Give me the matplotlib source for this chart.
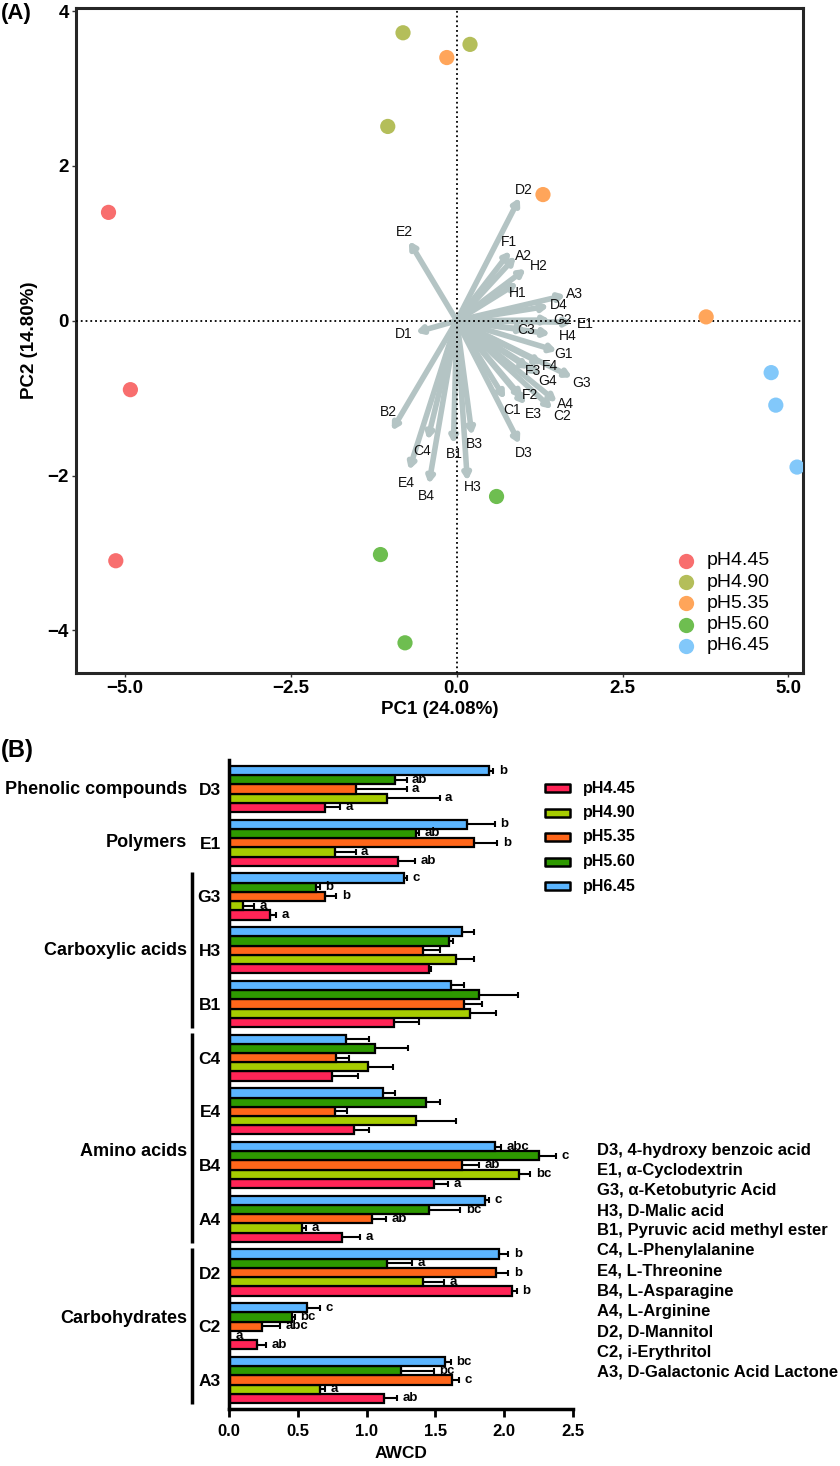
import matplotlib
matplotlib.use('Agg')
import matplotlib.pyplot as plt
import matplotlib.transforms as mtransforms
from matplotlib.lines import Line2D
from matplotlib.patches import Rectangle

plt.rcParams['font.family'] = ['Liberation Sans', 'DejaVu Sans']

# ---------------- panel A data (PCA scores + loadings) ----------------
ph_groups = ['pH4.45', 'pH4.90', 'pH5.35', 'pH5.60', 'pH6.45']
pc1_scores = [[-5.25, -4.92, -5.14],
              [-0.81, 0.20, -1.04],
              [-0.15, 1.30, 3.76],
              [0.60, -1.15, -0.78],
              [4.74, 4.81, 5.13]]
pc2_scores = [[1.40, -0.89, -3.10],
              [3.72, 3.57, 2.51],
              [3.40, 1.63, 0.05],
              [-2.27, -3.02, -4.16],
              [-0.67, -1.09, -1.89]]

var_names = ['D2', 'E2', 'F1', 'A2', 'H2', 'H1', 'A3', 'D4', 'G2', 'E1', 'C3',
             'H4', 'G1', 'F4', 'F3', 'G4', 'G3', 'F2', 'A4', 'C2', 'E3', 'C1',
             'D3', 'B3', 'B1', 'H3', 'C4', 'E4', 'B4', 'B2', 'D1']
var_pc1 = [0.95, -0.72, 0.81, 0.89, 1.04, 0.92, 1.64, 1.39, 1.41, 1.74, 1.05,
           1.41, 1.51, 1.29, 1.09, 1.26, 1.74, 0.99, 1.51, 1.44, 1.04, 0.73,
           0.95, 0.23, -0.05, 0.16, -0.44, -0.72, -0.42, -0.98, -0.62]
var_pc2 = [1.59, 1.03, 0.90, 0.83, 0.67, 0.49, 0.33, 0.19, 0.01, -0.02, -0.12,
           -0.17, -0.39, -0.56, -0.62, -0.69, -0.73, -1.00, -1.05, -1.14, -1.08, -1.01,
           -1.59, -1.48, -1.59, -2.07, -1.54, -1.93, -2.11, -1.42, -0.15]

# label nudges in pixels (right, down) -- layout only
label_nudge = {'D2': (4, -8), 'E2': (-5, -9), 'F1': (-2, -9), 'A2': (8, -1), 'H2': (13, -3),
               'H1': (0, 10), 'A3': (9, -1), 'D4': (10, -1), 'G2': (12, 0), 'E1': (13, 2),
               'C3': (0, 0), 'H4': (17, 2), 'G1': (7, 3), 'F4': (8, 2), 'F3': (4, 2),
               'G4': (7, 7), 'G3': (9, 6), 'F2': (8, -3), 'A4': (9, 2), 'C2': (10, 7),
               'E3': (8, 10), 'C1': (7, 11), 'D3': (4, 9), 'B3': (2, 9), 'B1': (1, 10),
               'H3': (5, 6), 'C4': (-5, 11), 'E4': (-3, 13), 'B4': (-3, 12), 'B2': (-3, -19),
               'D1': (-12, 2)}

point_colors = ['#F86E6E', '#B4BE5A', '#FFA55A', '#6EBE50', '#82C8FA']
arrow_color = '#B4C4C4'

# ---------------- panel B data (AWCD bars) ----------------
substrates = ['D3', 'E1', 'G3', 'H3', 'B1', 'C4', 'E4', 'B4', 'A4', 'D2', 'C2', 'A3']
awcd_445 = [0.70, 1.23, 0.30, 1.45, 1.20, 0.75, 0.91, 1.49, 0.82, 2.06, 0.20, 1.13]
awcd_490 = [1.15, 0.77, 0.10, 1.65, 1.75, 1.01, 1.36, 2.11, 0.53, 1.41, 0.01, 0.66]
awcd_535 = [0.92, 1.78, 0.70, 1.41, 1.71, 0.78, 0.77, 1.69, 1.04, 1.94, 0.24, 1.62]
awcd_560 = [1.21, 1.36, 0.63, 1.60, 1.82, 1.06, 1.43, 2.25, 1.45, 1.15, 0.46, 1.25]
awcd_645 = [1.89, 1.73, 1.27, 1.69, 1.61, 0.85, 1.12, 1.93, 1.86, 1.96, 0.57, 1.57]

err_445 = [0.11, 0.12, 0.04, 0.02, 0.18, 0.19, 0.11, 0.10, 0.13, 0.03, 0.07, 0.09]
err_490 = [0.38, 0.15, 0.08, 0.13, 0.19, 0.18, 0.29, 0.08, 0.03, 0.15, 0.00, 0.04]
err_535 = [0.37, 0.17, 0.08, 0.12, 0.13, 0.09, 0.09, 0.13, 0.10, 0.09, 0.13, 0.05]
err_560 = [0.08, 0.02, 0.03, 0.03, 0.28, 0.24, 0.10, 0.13, 0.23, 0.18, 0.02, 0.24]
err_645 = [0.03, 0.20, 0.02, 0.09, 0.10, 0.17, 0.09, 0.05, 0.03, 0.07, 0.09, 0.04]

sig_445 = ['a', 'ab', 'a', '', '', '', '', 'a', 'a', 'b', 'ab', 'ab']
sig_490 = ['a', 'a', 'a', '', '', '', '', 'bc', 'a', 'a', 'a', 'a']
sig_535 = ['a', 'b', 'b', '', '', '', '', 'ab', 'ab', 'b', 'abc', 'c']
sig_560 = ['ab', 'ab', 'b', '', '', '', '', 'c', 'bc', 'a', 'bc', 'bc']
sig_645 = ['b', 'b', 'c', '', '', '', '', 'abc', 'c', 'b', 'c', 'bc']

bar_colors = ['#FF2456', '#A6CC00', '#FF661A', '#2E9900', '#5BB5FF']

categories = ['Phenolic compounds', 'Polymers', 'Carboxylic acids', 'Amino acids', 'Carbohydrates']
category_rows = [(0, 0), (1, 1), (2, 4), (5, 8), (9, 11)]

substrate_names = ['D3, 4-hydroxy benzoic acid', 'E1, \u03b1-Cyclodextrin',
                   'G3, \u03b1-Ketobutyric Acid', 'H3, D-Malic acid',
                   'B1, Pyruvic acid methyl ester', 'C4, L-Phenylalanine',
                   'E4, L-Threonine', 'B4, L-Asparagine', 'A4, L-Arginine',
                   'D2, D-Mannitol', 'C2, i-Erythritol', 'A3, D-Galactonic Acid Lactone']

W, H = 840, 1466


def fx(x):
    return x / W


def fy(y):
    return 1 - y / H


fig = plt.figure(figsize=(W / 100, H / 100), dpi=100)

# ======================= (A) PCA biplot =======================
axA = fig.add_axes([fx(76), fy(673), (803 - 76) / W, (673 - 8) / H])
axA.set_xlim(-5.74, 5.22)
axA.set_ylim(-4.55, 4.04)

axA.axhline(0, color='black', ls=':', lw=1.3, zorder=3)
axA.axvline(0, color='black', ls=':', lw=1.3, zorder=3)

for name, x, y in zip(var_names, var_pc1, var_pc2):
    axA.annotate('', xy=(x, y), xytext=(0, 0),
                 arrowprops=dict(arrowstyle='-|>,head_length=0.35,head_width=0.2',
                                 color=arrow_color, lw=4.0, shrinkA=0, shrinkB=0,
                                 mutation_scale=10, capstyle='round'),
                 zorder=2)
for name, x, y in zip(var_names, var_pc1, var_pc2):
    dx, dy = label_nudge[name]
    axA.annotate(name, xy=(x, y), xytext=(dx * 0.72, -dy * 0.72),
                 textcoords='offset points', ha='center', va='center',
                 fontsize=10, color='#111111', zorder=5)

for g, xs, ys, c in zip(ph_groups, pc1_scores, pc2_scores, point_colors):
    axA.scatter(xs, ys, s=120, color=c, edgecolors='none', zorder=4)

for side in axA.spines.values():
    side.set_linewidth(2.2)
    side.set_color('#262626')
axA.set_xticks([-5.0, -2.5, 0.0, 2.5, 5.0])
axA.set_xticklabels(['\u22125.0', '\u22122.5', '0.0', '2.5', '5.0'])
axA.set_yticks([-4, -2, 0, 2, 4])
axA.tick_params(length=3, width=1, color='#333333', labelsize=13.5, pad=2)
for lab in axA.get_xticklabels() + axA.get_yticklabels():
    lab.set_fontweight('bold')
axA.set_xlabel('PC1 (24.08%)', fontsize=13.5, fontweight='bold', labelpad=3)
axA.set_ylabel('PC2 (14.80%)', fontsize=13.5, fontweight='bold', labelpad=7)

# legend of panel A, drawn by hand so rows sit where the reference has them
for i, (g, c) in enumerate(zip(ph_groups, point_colors)):
    yy = fy(561 + i * 21.2)
    fig.add_artist(Line2D([fx(686)], [yy], marker='o', ls='none', markersize=11,
                          markerfacecolor=c, markeredgecolor='none',
                          transform=fig.transFigure))
    fig.text(fx(707), yy, g, fontsize=14, ha='left', va='center')

fig.text(fx(1), fy(14), '(A)', fontsize=16, fontweight='bold', ha='left', va='center')

# ======================= (B) AWCD bars =======================
axB = fig.add_axes([fx(229), fy(1409), (573 - 229) / W, (1409 - 760) / H])
bar_h = 0.172
series_vals = [awcd_445, awcd_490, awcd_535, awcd_560, awcd_645]
series_err = [err_445, err_490, err_535, err_560, err_645]
series_sig = [sig_445, sig_490, sig_535, sig_560, sig_645]
rows = list(range(len(substrates)))
for k, (vals, errs, sigs, c) in enumerate(zip(series_vals, series_err, series_sig, bar_colors)):
    pos = [r + (2 - k) * bar_h for r in rows]
    axB.barh(pos, vals, height=bar_h, color=c, edgecolor='black', linewidth=1.6,
             xerr=[[0] * len(vals), errs],
             error_kw=dict(ecolor='black', elinewidth=1.5, capsize=2.5, capthick=1.5),
             zorder=2)
    for p, v, e, s in zip(pos, vals, errs, sigs):
        if s:
            axB.text(v + e + 0.04, p, s, ha='left', va='center',
                     fontsize=9.5, fontweight='bold')

axB.set_xlim(0, 2.5)
axB.set_ylim(11.54, -0.54)
axB.set_yticks(rows)
axB.set_yticklabels(substrates, fontsize=12.5, fontweight='bold')
axB.tick_params(axis='y', length=0, pad=6)
axB.set_xticks([0.0, 0.5, 1.0, 1.5, 2.0, 2.5])
axB.set_xticklabels(['0.0', '0.5', '1.0', '1.5', '2.0', '2.5'])
axB.tick_params(axis='x', length=6, width=2, labelsize=12, pad=5)
for lab in axB.get_xticklabels():
    lab.set_fontweight('bold')
axB.set_xlabel('AWCD', fontsize=12.5, fontweight='bold', labelpad=5)
axB.spines['top'].set_visible(False)
axB.spines['right'].set_visible(False)
axB.spines['left'].set_linewidth(2.5)
axB.spines['bottom'].set_linewidth(2.5)

trans = mtransforms.blended_transform_factory(axB.transAxes, axB.transData)
cat_label_y = [0, 1, 3, 6.75, 9.85]
for cat, (r0, r1), ly in zip(categories, category_rows, cat_label_y):
    if r1 > r0:
        axB.plot([-0.1076, -0.1076], [r0 - 0.45, r1 + 0.45], color='black', lw=2.5,
                 transform=trans, clip_on=False, solid_capstyle='butt')
    axB.text(-0.122, ly, cat, transform=trans, ha='right', va='center',
             fontsize=13, fontweight='bold')

# legend of panel B, drawn by hand
for i, (g, c) in enumerate(zip(ph_groups, bar_colors)):
    yc = 788 + i * 24.5
    fig.add_artist(Rectangle((fx(545), fy(yc + 4)), 25 / W, 8 / H, transform=fig.transFigure,
                             facecolor=c, edgecolor='black', linewidth=1.8,
                             joinstyle='round'))
    fig.text(fx(583), fy(yc), g, fontsize=11.5, fontweight='bold', ha='left', va='center')

for i, s in enumerate(substrate_names):
    fig.text(fx(597), fy(1150 + i * 20.2), s, fontsize=12, fontweight='bold',
             ha='left', va='center')

fig.text(fx(1), fy(750), '(B)', fontsize=17, fontweight='bold', ha='left', va='center')

fig.savefig('out.png', dpi=100)
